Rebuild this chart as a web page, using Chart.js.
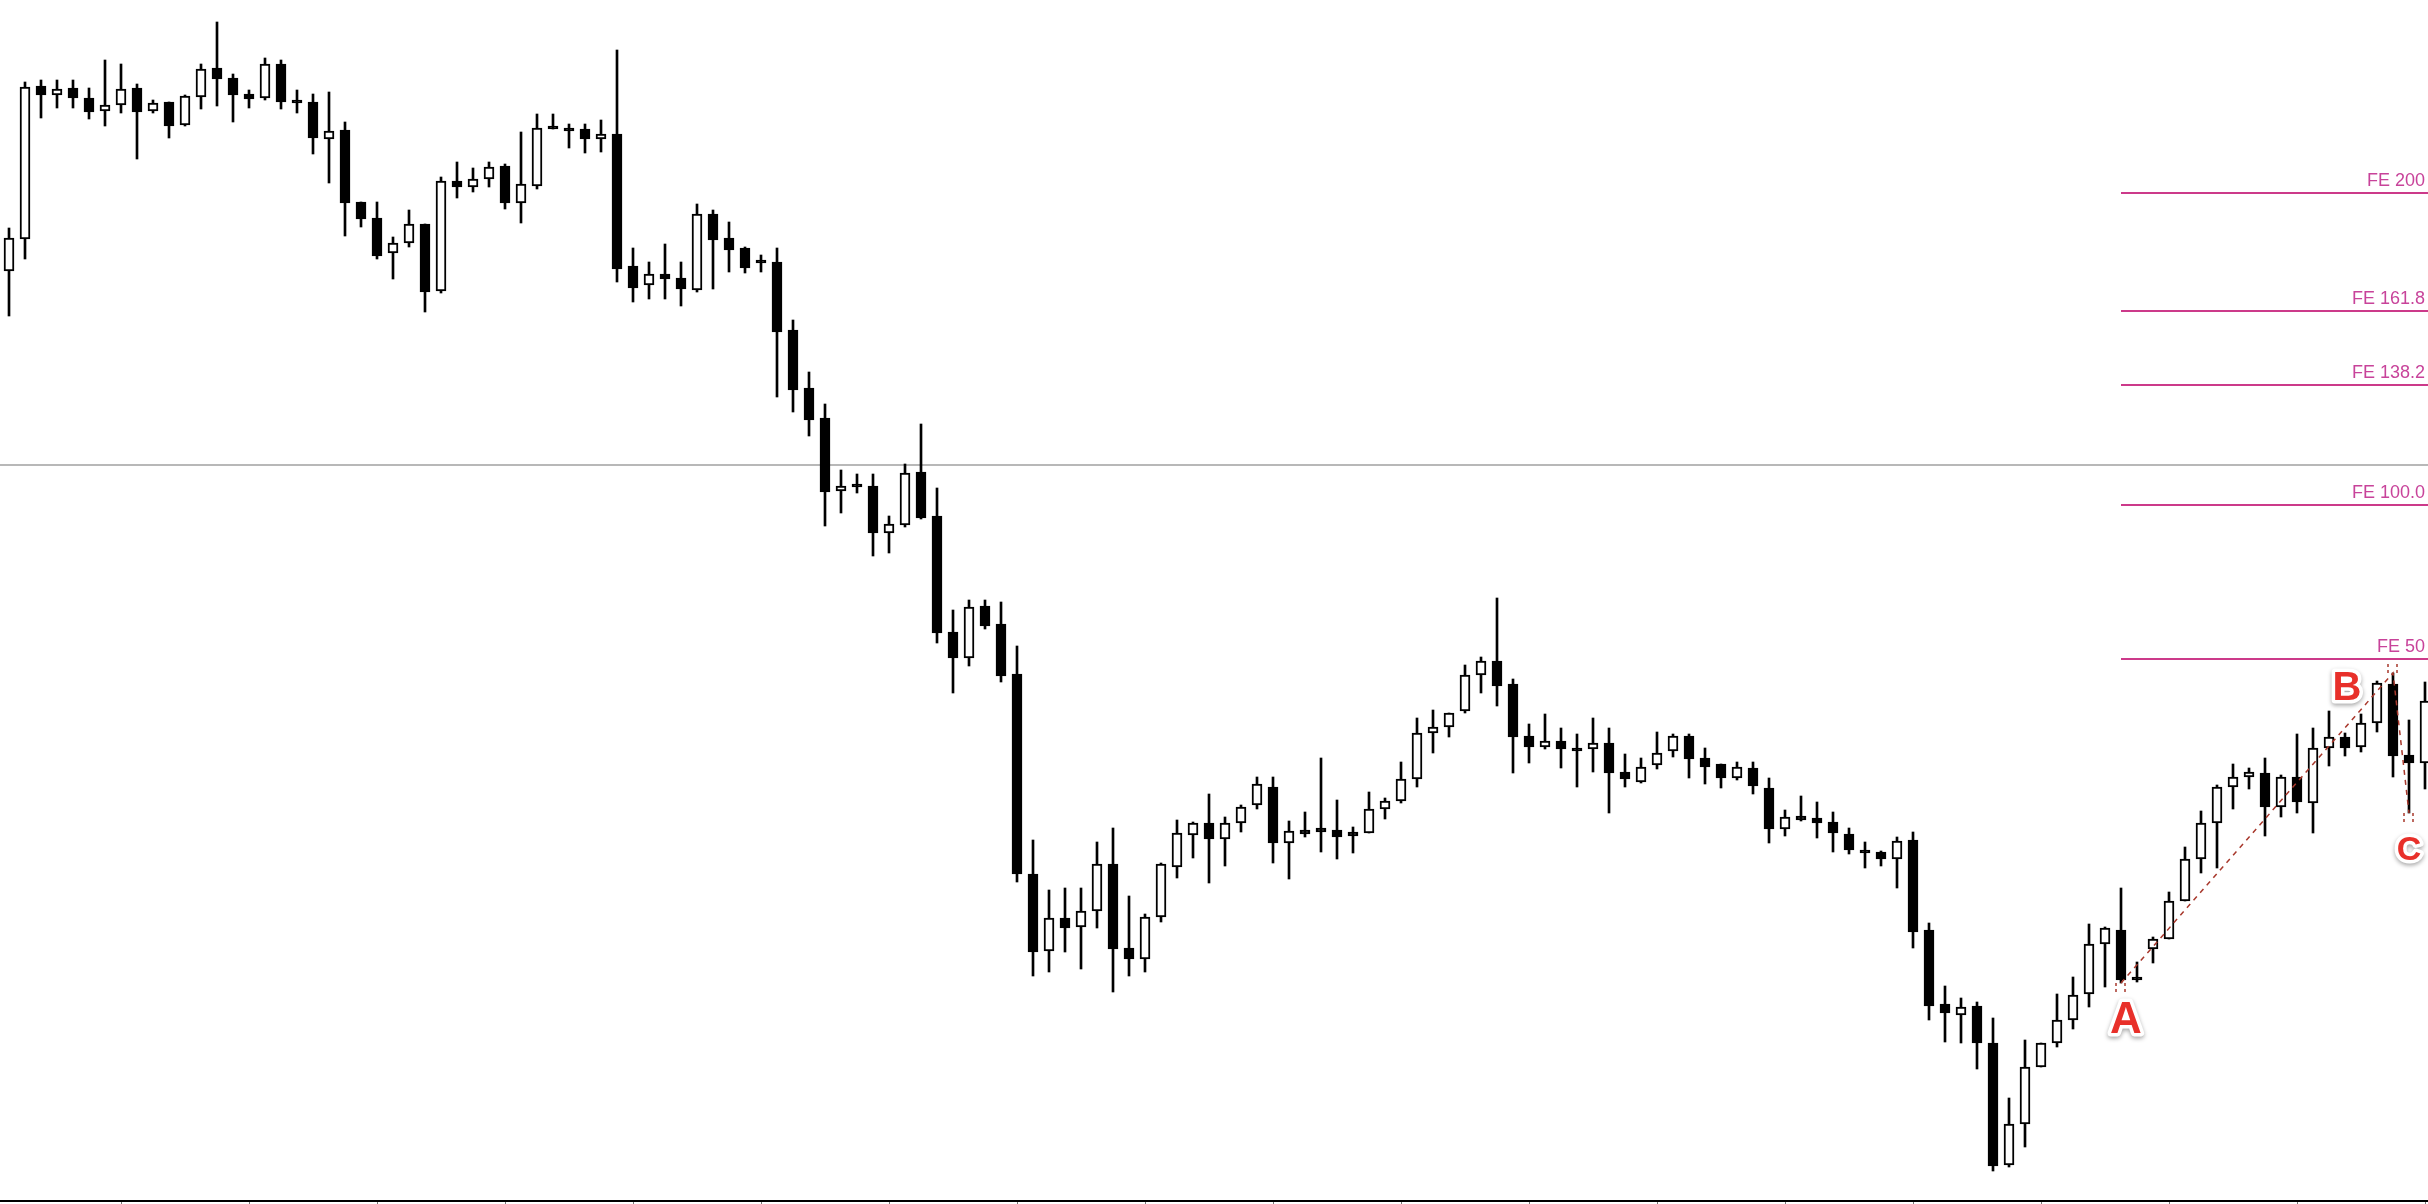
<!DOCTYPE html>
<html>
<head>
<meta charset="utf-8">
<title>FE projection</title>
<script src="https://cdn.jsdelivr.net/npm/chart.js@4.4.1/dist/chart.umd.min.js"></script>
<style>
  html, body { margin: 0; padding: 0; background: #fff; overflow: hidden; }
  #wrap { width: 2428px; height: 1204px; }
</style>
</head>
<body>
<div id="wrap"><canvas id="chart" width="2428" height="1204"></canvas></div>
<script>
/* ── Candle data (points) ───────────────────────────────────────────────── */
const OPEN = [
  933, 965,1118,1109,1116,1106,1093,1099,1116,1093,1102,1079,1107,1136,1126,1110,
 1106,1140,1104,1102,1065,1074,1002, 986, 951, 961, 980, 913,1023,1017,1025,1038,
 1001,1018,1076,1076,1075,1065,1070, 938, 919, 930, 926, 914, 990, 966, 956, 944,
  942, 874, 816, 786, 713, 719, 718, 671, 679, 732, 688, 572, 546, 598, 580, 530,
  330, 253, 286, 277, 293, 340, 256, 245, 287, 337, 369, 381, 365, 381, 399, 417,
  361, 374, 376, 374, 372, 371, 395, 403, 425, 471, 477, 493, 529, 543, 520, 468,
  457, 463, 456, 455, 461, 432, 422, 439, 453, 468, 446, 440, 426, 436, 416, 375,
  388, 386, 382, 370, 354, 352, 345, 364, 274, 200, 189, 198, 161,  39,  80, 137,
  161, 184, 210, 260, 274, 227, 255, 265, 303, 345, 381, 417, 427, 431, 397, 427,
  401, 456, 467, 457, 481, 520, 449, 441
];
const HIGH = [
  976,1122,1124,1124,1124,1116,1144,1140,1120,1104,1102,1109,1140,1182,1130,1114,
 1146,1144,1114,1110,1112,1082,1002,1002, 967, 994, 980,1027,1042,1036,1042,1040,
 1072,1090,1090,1080,1080,1084,1154, 956, 942, 960, 942,1000, 994, 982, 957, 949,
  956, 884, 832, 800, 734, 730, 730, 688, 740, 780, 716, 594, 604, 604, 602, 558,
  364, 314, 316, 316, 362, 376, 308, 290, 341, 384, 382, 410, 387, 399, 427, 427,
  383, 392, 446, 404, 377, 412, 406, 442, 486, 494, 491, 539, 547, 606, 525, 480,
  490, 476, 470, 486, 476, 450, 446, 472, 470, 470, 456, 440, 442, 442, 426, 394,
  408, 402, 392, 376, 362, 353, 367, 372, 281, 218, 206, 202, 186, 106, 164, 161,
  210, 227, 280, 277, 316, 242, 267, 312, 357, 393, 419, 440, 436, 446, 429, 470,
  476, 493, 471, 490, 523, 531, 484, 522
];
const LOW = [
  888, 945,1086,1096,1096,1085,1078,1091,1045,1091,1066,1078,1095,1098,1082,1096,
 1104,1095,1091,1050,1021, 968, 977, 945, 925, 957, 892, 911,1006,1012,1017, 995,
  981,1015,1075,1056,1051,1052, 922, 902, 905, 905, 898, 912, 915, 932, 931, 932,
  807, 792, 768, 678, 691, 711, 648, 651, 677, 685, 561, 511, 538, 575, 522, 322,
  228, 232, 252, 235, 276, 212, 228, 232, 282, 326, 346, 321, 338, 372, 395, 341,
  325, 367, 352, 345, 351, 371, 385, 401, 417, 451, 467, 491, 511, 498, 431, 441,
  455, 436, 417, 432, 391, 417, 421, 435, 447, 426, 420, 416, 424, 410, 361, 368,
  383, 366, 352, 350, 336, 338, 316, 256, 184, 162, 161, 135,  33,  37,  57, 137,
  157, 175, 197, 217, 221, 222, 241, 265, 303, 331, 336, 395, 415, 368, 387, 391,
  371, 438, 448, 452, 472, 427, 391, 415
];
const CLOSE = [
  966,1117,1109,1115,1106,1092,1099,1115,1092,1101,1078,1108,1135,1125,1109,1105,
 1140,1102,1101,1066,1073,1001, 985, 948, 961, 980, 912,1023,1017,1025,1037,1001,
 1020,1076,1075,1073,1065,1070, 935, 916, 930, 925, 915, 990, 964, 954, 936, 941,
  872, 814, 784, 712, 718, 717, 671, 680, 731, 686, 571, 546, 597, 578, 528, 330,
  252, 286, 276, 293, 340, 255, 245, 287, 340, 371, 381, 365, 381, 397, 420, 361,
  373, 370, 372, 367, 368, 395, 403, 425, 471, 477, 491, 529, 543, 518, 467, 457,
  463, 455, 453, 461, 431, 425, 437, 451, 468, 445, 437, 426, 437, 418, 375, 387,
  384, 381, 371, 354, 351, 345, 363, 272, 198, 191, 197, 161,  38,  80, 137, 161,
  184, 209, 260, 276, 224, 224, 265, 303, 345, 381, 417, 427, 432, 397, 427, 402,
  456, 467, 456, 481, 521, 448, 441, 503
];

// ── Fibonacci expansion levels and reference line ────────────────────────────
const FE_LABELS = ['FE 200', 'FE 161.8', 'FE 138.2', 'FE 100.0', 'FE 50'];
const FE_LEVELS = [1011, 893, 819, 699, 545];
const H_LEVEL   = 739;

// ── A-B-C swing points (bar index, price) ────────────────────────────────────
const WAVE_NAMES  = ['A', 'B', 'C'];
const WAVE_BARS   = [132, 149, 150];
const WAVE_PRICES = [221, 531, 391];

const BARS = OPEN.map((_, i) => i);

// ── Overlay: level lines, labels, ABC legs, bottom axis ─────────────────────
const overlay = {
  id: 'overlay',
  beforeDatasetsDraw(chart) {
    const { ctx, chartArea: a, scales: { y } } = chart;
    const yy = y.getPixelForValue(H_LEVEL);
    ctx.save();
    ctx.strokeStyle = '#b8b8b8';
    ctx.lineWidth = 2;
    ctx.beginPath(); ctx.moveTo(a.left, yy); ctx.lineTo(a.right, yy); ctx.stroke();
    ctx.restore();
  },
  afterDatasetsDraw(chart) {
    const { ctx, chartArea: a, scales: { x, y } } = chart;
    ctx.save();

    // FE levels
    const x0 = x.getPixelForValue(WAVE_BARS[0]);
    ctx.font = '18px "Liberation Sans", Arial, sans-serif';
    ctx.textAlign = 'right';
    ctx.textBaseline = 'bottom';
    FE_LEVELS.forEach((lv, k) => {
      const yy = y.getPixelForValue(lv);
      ctx.strokeStyle = '#cc3a8a';
      ctx.lineWidth = 2;
      ctx.beginPath(); ctx.moveTo(x0, yy); ctx.lineTo(a.right, yy); ctx.stroke();
      ctx.fillStyle = '#c8439a';
      ctx.fillText(FE_LABELS[k], a.right - 3, yy - 3);
    });

    // dashed A-B-C legs
    const pts = WAVE_BARS.map((b, k) => ({ px: x.getPixelForValue(b), py: y.getPixelForValue(WAVE_PRICES[k]) }));
    ctx.strokeStyle = '#a8382c';
    ctx.lineWidth = 1.5;
    ctx.setLineDash([5, 5]);
    ctx.beginPath();
    pts.forEach((p, k) => k ? ctx.lineTo(p.px, p.py) : ctx.moveTo(p.px, p.py));
    ctx.stroke();
    // little anchor ticks
    ctx.setLineDash([3, 3]);
    pts.forEach((p, k) => {
      const dir = k === 1 ? -1 : 1;
      [-5, 4].forEach(dx => {
        ctx.beginPath(); ctx.moveTo(p.px + dx, p.py); ctx.lineTo(p.px + dx, p.py + dir * 9); ctx.stroke();
      });
    });
    ctx.setLineDash([]);

    // letters
    const offs = [[5, 38, 44], [-46, 16, 40], [0, 38, 34]];
    ctx.textAlign = 'center';
    ctx.textBaseline = 'middle';
    pts.forEach((p, k) => {
      const [dx, dy, fs] = offs[k];
      ctx.font = `bold ${fs}px "Liberation Sans", Arial, sans-serif`;
      ctx.shadowColor = 'rgba(0,0,0,0.35)';
      ctx.shadowBlur = 4;
      ctx.shadowOffsetY = 2;
      ctx.lineJoin = 'round';
      ctx.strokeStyle = '#ffffff';
      ctx.lineWidth = 7;
      ctx.strokeText(WAVE_NAMES[k], p.px + dx, p.py + dy);
      ctx.shadowColor = 'transparent';
      ctx.fillStyle = '#e8302a';
      ctx.fillText(WAVE_NAMES[k], p.px + dx, p.py + dy);
    });
    ctx.restore();
  },
  afterDraw(chart) {
    const { ctx, chartArea: a, scales: { x } } = chart;
    ctx.save();
    ctx.fillStyle = '#000';
    ctx.fillRect(a.left, a.bottom - 4, a.right - a.left, 2);
    ctx.fillStyle = '#777';
    for (let i = 7; i < BARS.length; i += 8) {
      ctx.fillRect(Math.round(x.getPixelForValue(i)), a.bottom - 2, 1, 2);
    }
    ctx.restore();
  }
};

// ── Chart ─────────────────────────────────────────────────────────────────────
new Chart(document.getElementById('chart').getContext('2d'), {
  type: 'bar',
  data: {
    datasets: [
      {
        label: 'wick',
        data: BARS.map(i => ({ x: i, y: [LOW[i], HIGH[i]] })),
        backgroundColor: '#000',
        borderWidth: 0,
        barThickness: 2,
        grouped: false,
        order: 2,
      },
      {
        label: 'body',
        data: BARS.map(i => ({ x: i, y: [OPEN[i], CLOSE[i]] })),
        backgroundColor: BARS.map(i => CLOSE[i] > OPEN[i] ? '#ffffff' : '#000000'),
        borderColor: '#000',
        borderWidth: 2,
        borderSkipped: false,
        barThickness: 10,
        minBarLength: 3,
        grouped: false,
        order: 1,
      },
    ],
  },
  options: {
    responsive: false,
    animation: false,
    devicePixelRatio: 1,
    layout: { padding: 0 },
    plugins: { legend: { display: false }, tooltip: { enabled: false } },
    scales: {
      x: { type: 'linear', display: false, offset: false, min: -0.5625, max: 151.1875 },
      y: { type: 'linear', display: false, min: 0, max: 1204 },
    },
  },
  plugins: [overlay],
});
</script>
</body>
</html>
